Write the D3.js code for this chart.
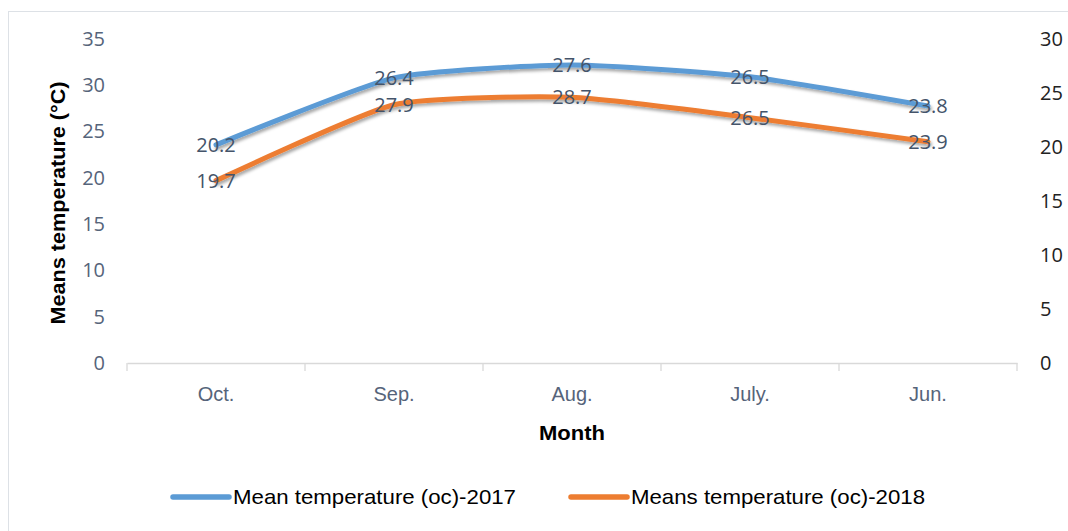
<!DOCTYPE html>
<head>
  <meta charset="utf-8">
  <title>Mean temperature chart</title>
  <script type="text/javascript" src="https://d3js.org/d3.v7.min.js"></script>
  <style type="text/css">
  body { margin: 0; background: #fff; }
  .narrow { font-family: "Liberation Sans Narrow", "Liberation Sans", sans-serif; }
  .wide { font-family: "Open Sans", "Noto Sans", sans-serif; }
  </style>
</head>
<body>
  <script type="text/javascript">

    // Data
    var months = ["Oct.", "Sep.", "Aug.", "July.", "Jun."];
    var temp2017 = [20.2, 26.4, 27.6, 26.5, 23.8];   // right axis
    var temp2018 = [19.7, 27.9, 28.7, 26.5, 23.9];   // left axis
    var leftTicks = [0, 5, 10, 15, 20, 25, 30, 35];
    var rightTicks = [0, 5, 10, 15, 20, 25, 30];
    var seriesNames = ["Mean temperature (oc)-2017", "Means temperature (oc)-2018"];
    var colors = ["#5B9BD5", "#ED7D31"];

    var plot = {left: 127, right: 1017, top: 39, bottom: 363};

    var svg = d3.select("body").append("svg")
      .attr("width", 1068)
      .attr("height", 531);

    // drop shadow like the spreadsheet lines
    var filter = svg.append("defs").append("filter")
      .attr("id", "shadow")
      .attr("x", "-5%").attr("y", "-20%")
      .attr("width", "110%").attr("height", "140%");
    filter.append("feDropShadow")
      .attr("dx", 1.5).attr("dy", 2.5)
      .attr("stdDeviation", 1.8)
      .attr("flood-color", "#000")
      .attr("flood-opacity", 0.35);

    // chart border
    svg.append("rect")
      .attr("x", 8.5).attr("y", 11.5)
      .attr("width", 1080).attr("height", 540)
      .attr("fill", "none")
      .attr("stroke", "#dde1e6");

    // Scales
    var x = d3.scaleBand()
      .domain(months)
      .range([plot.left, plot.right])
      .padding(0);

    var yLeft = d3.scaleLinear()
      .domain([0, 35])
      .range([plot.bottom, plot.top]);

    var yRight = d3.scaleLinear()
      .domain([0, 30])
      .range([plot.bottom, plot.top]);

    // x axis
    var xAxis = svg.append("g")
      .attr("transform", "translate(0," + plot.bottom + ")")
      .call(d3.axisBottom(x).tickSize(0).tickPadding(24));
    xAxis.select(".domain").attr("stroke", "#d9d9d9").attr("stroke-width", 1.3);
    xAxis.selectAll("text")
      .attr("class", "narrow")
      .attr("font-size", "20px")
      .attr("fill", "#56647a");

    // category separators
    var edges = months.map(function(m) { return x(m); }).concat([plot.right]);
    svg.selectAll(".sep")
      .data(edges)
      .enter().append("line")
      .attr("x1", function(d) { return d; })
      .attr("x2", function(d) { return d; })
      .attr("y1", plot.bottom)
      .attr("y2", plot.bottom + 8)
      .attr("stroke", "#d9d9d9")
      .attr("stroke-width", 1.3);

    // left axis
    var lAxis = svg.append("g")
      .attr("transform", "translate(" + (plot.left - 22) + ",0)")
      .call(d3.axisLeft(yLeft).tickValues(leftTicks).tickSize(0).tickPadding(0));
    lAxis.select(".domain").remove();
    lAxis.selectAll("text")
      .attr("class", "wide")
      .attr("font-size", "20px")
      .attr("fill", "#56647a");

    // right axis
    var rAxis = svg.append("g")
      .attr("transform", "translate(" + (plot.right + 23) + ",0)")
      .call(d3.axisRight(yRight).tickValues(rightTicks).tickSize(0).tickPadding(0));
    rAxis.select(".domain").remove();
    rAxis.selectAll("text")
      .attr("class", "wide")
      .attr("font-size", "20px")
      .attr("fill", "#222");

    // Lines
    var series = [
      {name: seriesNames[0], values: temp2017, y: yRight, color: colors[0]},
      {name: seriesNames[1], values: temp2018, y: yLeft, color: colors[1]}
    ];

    series.forEach(function(s) {
      var line = d3.line()
        .x(function(d, i) { return x(months[i]) + x.bandwidth() / 2; })
        .y(function(d) { return s.y(d); })
        .curve(d3.curveCardinal.tension(0.45));

      svg.append("path")
        .datum(s.values)
        .attr("d", line)
        .attr("fill", "none")
        .attr("stroke", s.color)
        .attr("stroke-width", 5)
        .attr("stroke-linecap", "round")
        .attr("filter", "url(#shadow)");
    });

    // Data labels
    series.forEach(function(s) {
      svg.selectAll(null)
        .data(s.values)
        .enter().append("text")
        .attr("class", "wide")
        .attr("x", function(d, i) { return x(months[i]) + x.bandwidth() / 2; })
        .attr("y", function(d) { return s.y(d); })
        .attr("dy", "0.35em")
        .attr("text-anchor", "middle")
        .attr("font-size", "20px")
        .attr("fill", "#44546A")
        .text(function(d) { return d.toFixed(1); });
    });

    // Axis titles
    svg.append("text")
      .attr("class", "narrow")
      .attr("x", 572)
      .attr("y", 440)
      .attr("text-anchor", "middle")
      .attr("font-size", "20px")
      .attr("font-weight", "bold")
      .attr("fill", "#000")
      .attr("textLength", 66)
      .attr("lengthAdjust", "spacingAndGlyphs")
      .text("Month");

    svg.append("text")
      .attr("class", "narrow")
      .attr("transform", "translate(65,203) rotate(-90)")
      .attr("text-anchor", "middle")
      .attr("font-size", "20px")
      .attr("font-weight", "bold")
      .attr("fill", "#000")
      .attr("textLength", 243)
      .attr("lengthAdjust", "spacingAndGlyphs")
      .text("Means temperature (°C)");

    // Legend
    var legendX = [173, 571];
    var legendW = [283, 294];
    var legend = svg.selectAll(".legend")
      .data(series)
      .enter().append("g")
      .attr("transform", function(d, i) { return "translate(" + legendX[i] + ",497)"; });

    legend.append("line")
      .attr("x1", 0).attr("x2", 56)
      .attr("stroke", function(d) { return d.color; })
      .attr("stroke-width", 5.5)
      .attr("stroke-linecap", "round");

    legend.append("text")
      .attr("class", "narrow")
      .attr("x", 60)
      .attr("dy", "0.35em")
      .attr("font-size", "21px")
      .attr("fill", "#000")
      .attr("textLength", function(d, i) { return legendW[i]; })
      .attr("lengthAdjust", "spacingAndGlyphs")
      .text(function(d) { return d.name; });

  </script>

</body>
</html>
